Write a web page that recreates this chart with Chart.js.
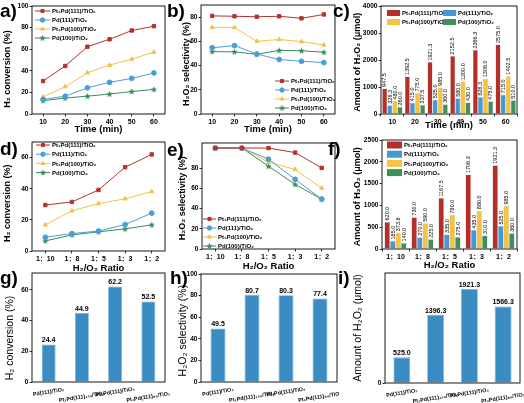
<!DOCTYPE html>
<html>
<head>
<meta charset="utf-8">
<script src="https://cdn.jsdelivr.net/npm/chart.js@4.4.1/dist/chart.umd.min.js"></script>
<style>
  html, body { margin: 0; padding: 0; background: #fff; }
  #fig { position: relative; width: 524px; height: 403px; overflow: hidden; }
  .panel { position: absolute; }
  .panel canvas { display: block; }
  .tag { position: absolute; font: bold 19px 'Liberation Sans', Arial, sans-serif; line-height: 19px; color: #000; }
</style>
</head>
<body>
<div id="fig"></div>
<script>
/* ---- data ---- */
var timeLabels  = ['10', '20', '30', '40', '50', '60'];
var ratioLabels = ['1：10', '1：8', '1：5', '1：3', '1：2'];
var catalysts   = ['Pt₁Pd(111)/TiO₂', 'Pd(111)/TiO₂', 'Pt₁Pd(100)/TiO₂', 'Pd(100)/TiO₂'];
var compareLabels = ['Pd(111)/TiO₂', 'Pt₁Pd(111)₁₂₀/TiO₂', 'Pt₁Pd(111)/TiO₂', 'Pt₁Pd(111)₆₀/TiO₂'];

/* a) H2 conversion vs time */
var convTime_PtPd111 = [30.5, 44.5, 62.3, 69.2, 77.3, 81.3];
var convTime_Pd111   = [13.5, 16.5, 24.2, 29.3, 33.0, 38.0];
var convTime_PtPd100 = [15.8, 25.3, 38.2, 45.2, 50.8, 57.3];
var convTime_Pd100   = [12.3, 14.8, 16.5, 18.5, 20.8, 22.8];

/* b) H2O2 selectivity vs time */
var selTime_PtPd111 = [81.0, 80.7, 80.3, 80.7, 79.0, 82.2];
var selTime_Pd111   = [54.7, 56.5, 49.5, 45.0, 43.5, 42.5];
var selTime_PtPd100 = [71.5, 71.5, 60.0, 61.5, 59.8, 57.0];
var selTime_Pd100   = [51.5, 51.3, 49.3, 52.5, 52.2, 51.0];

/* c) H2O2 amount vs time */
var amtTime_PtPd111 = [947.5, 1392.5, 1921.3, 2152.5, 2366.3, 2575.0];
var amtTime_Pd111   = [326.3, 415.0, 525.0, 580.0, 626.3, 715.0];
var amtTime_PtPd100 = [480.0, 775.0, 985.0, 1200.0, 1306.0, 1402.5];
var amtTime_Pd100   = [260.0, 337.5, 360.0, 430.0, 475.0, 510.0];

/* d) H2 conversion vs H2/O2 ratio */
var convRatio_PtPd111 = [29.5, 31.5, 39.2, 53.8, 62.0];
var convRatio_Pd111   = [8.8, 11.2, 12.8, 17.0, 24.3];
var convRatio_PtPd100 = [16.8, 25.8, 30.5, 33.5, 38.2];
var convRatio_Pd100   = [6.5, 10.3, 12.3, 14.2, 16.8];

/* e) H2O2 selectivity vs ratio */
var selRatio_PtPd111 = [100, 100, 100, 95.5, 80.3];
var selRatio_Pd111   = [100, 100, 89.0, 69.0, 49.5];
var selRatio_PtPd100 = [100, 100, 86.0, 78.8, 60.3];
var selRatio_Pd100   = [100, 100, 82.0, 64.0, 49.5];

/* f) H2O2 amount vs ratio */
var amtRatio_PtPd111 = [620.0, 730.0, 1167.5, 1706.3, 1921.3];
var amtRatio_Pd111   = [185.0, 270.0, 335.0, 435.0, 525.0];
var amtRatio_PtPd100 = [373.8, 590.0, 780.0, 880.0, 985.0];
var amtRatio_Pd100   = [140.0, 225.0, 275.0, 310.0, 360.0];

/* g, h, i) comparison */
var convCompare = [24.4, 44.9, 62.2, 52.5];
var selCompare  = [49.5, 80.7, 80.3, 77.4];
var amtCompare  = [525.0, 1396.3, 1921.3, 1566.3];

/* ---- style ---- */
var FF = "'Liberation Sans', 'Noto Sans CJK SC', Arial, sans-serif";
var RED = '#b2342c', BLUE = '#4a9ed6', YEL = '#f3c14a', GRN = '#3b8b5a';
var BAR_RED = '#b72e28', BAR_BLUE = '#3f9bd8', BAR_YEL = '#f5c242', BAR_GRN = '#3d8f5b';
var STEEL = '#3c8cc4';
var EN = '\u2002';

function makeStar(color) {
  var c = document.createElement('canvas');
  c.width = 7; c.height = 7;
  var g = c.getContext('2d');
  g.fillStyle = color;
  g.beginPath();
  for (var k = 0; k < 10; k++) {
    var r = k % 2 ? 1.5 : 3.4;
    var a = -Math.PI / 2 + k * Math.PI / 5;
    g.lineTo(3.5 + r * Math.cos(a), 3.7 + r * Math.sin(a));
  }
  g.closePath();
  g.fill();
  return c;
}
var STAR = makeStar(GRN);

/* ---- plugins ---- */
var frame = {
  id: 'frame',
  afterDraw: function (chart) {
    var a = chart.chartArea, ctx = chart.ctx;
    ctx.save();
    ctx.strokeStyle = '#000';
    ctx.lineWidth = 0.9;
    ctx.strokeRect(a.left, a.top, a.right - a.left, a.bottom - a.top);
    ctx.restore();
  }
};

var insideLegend = {
  id: 'insideLegend',
  afterDraw: function (chart, args, opt) {
    if (!opt || !opt.kind) return;
    var ctx = chart.ctx, a = chart.chartArea;
    ctx.save();
    ctx.font = 'bold 6px ' + FF;
    ctx.textBaseline = 'middle';
    chart.data.datasets.forEach(function (ds, i) {
      var cols = opt.cols || 1;
      var col = i % cols, row = Math.floor(i / cols);
      var x = a.left + opt.x + col * (opt.colW || 0);
      var y = a.top + opt.y + row * opt.rowH;
      if (opt.kind === 'line') {
        ctx.strokeStyle = ds.borderColor;
        ctx.lineWidth = 1;
        ctx.beginPath(); ctx.moveTo(x, y); ctx.lineTo(x + opt.sw, y); ctx.stroke();
        ctx.fillStyle = ds.borderColor;
        Chart.helpers.drawPoint(ctx, { pointStyle: ds.pointStyle, radius: 2.2, rotation: 0, borderWidth: 1 }, x + opt.sw / 2, y);
      } else {
        ctx.fillStyle = ds.backgroundColor;
        ctx.fillRect(x, y - opt.sh / 2, opt.sw, opt.sh);
      }
      ctx.fillStyle = '#000';
      ctx.fillText(ds.label, x + opt.sw + opt.gap, y + 0.5);
    });
    ctx.restore();
  }
};

var barValues = {
  id: 'barValues',
  afterDatasetsDraw: function (chart, args, opt) {
    if (!opt || !opt.mode) return;
    var ctx = chart.ctx;
    ctx.save();
    ctx.fillStyle = '#000';
    chart.data.datasets.forEach(function (ds, i) {
      chart.getDatasetMeta(i).data.forEach(function (bar, j) {
        var txt = ds.data[j].toFixed(1);
        if (opt.mode === 'vertical') {
          ctx.save();
          ctx.translate(bar.x + 0.3, bar.y - 1.5);
          ctx.rotate(-Math.PI / 2);
          ctx.font = '5.5px ' + FF;
          ctx.textAlign = 'left';
          ctx.textBaseline = 'middle';
          ctx.fillText(txt, 0, 0);
          ctx.restore();
        } else {
          ctx.font = 'bold 7px ' + FF;
          ctx.textAlign = 'center';
          ctx.textBaseline = 'bottom';
          ctx.fillText(txt, bar.x, bar.y - 0.5);
        }
      });
    });
    ctx.restore();
  }
};

var slantLabels = {
  id: 'slantLabels',
  afterDraw: function (chart, args, opt) {
    if (!opt || !opt.on) return;
    var ctx = chart.ctx, xs = chart.scales.x, bottom = chart.chartArea.bottom;
    ctx.save();
    ctx.font = 'bold 5.4px ' + FF;
    ctx.textAlign = 'center';
    ctx.textBaseline = 'middle';
    ctx.fillStyle = '#000';
    chart.data.labels.forEach(function (lbl, i) {
      ctx.save();
      ctx.translate(xs.getPixelForValue(i) + opt.dx, bottom + (i % 2 ? opt.dy2 : opt.dy1));
      ctx.rotate(-opt.angle * Math.PI / 180);
      ctx.fillText(lbl, 0, 0);
      ctx.restore();
    });
    ctx.restore();
  }
};

Chart.register(frame, insideLegend, barValues, slantLabels);

/* ---- helpers ---- */
function lineSet(label, data, color, style) {
  return {
    label: label, data: data,
    borderColor: color, backgroundColor: color,
    pointBackgroundColor: color, pointBorderColor: color,
    pointStyle: style, pointRadius: 2.4, borderWidth: 1, tension: 0
  };
}
function barSet(label, data, color, cat) {
  return {
    label: label, data: data,
    backgroundColor: color, borderColor: 'rgba(0,0,0,0.25)', borderWidth: 0.5,
    categoryPercentage: cat, barPercentage: 1
  };
}
function xScale(title, titleSize, showTicks) {
  return {
    ticks: { display: showTicks, color: '#000', font: { family: FF, size: 7, weight: 'bold' }, padding: 1, autoSkip: false, maxRotation: 0 },
    grid: { display: showTicks, drawOnChartArea: false, tickLength: 2.5, color: '#000', tickWidth: 0.8 },
    border: { display: false },
    title: { display: !!title, text: title, color: '#000', font: { family: FF, size: titleSize, weight: 'bold' }, padding: { top: 0, bottom: 0 } }
  };
}
/* shift: trailing en spaces that move the centred title down, away from the panel letter */
function yScale(max, step, title, pad, titleSize, weight, shift) {
  return {
    min: 0, max: max,
    ticks: { stepSize: step, color: '#000', font: { family: FF, size: 6.6, weight: 'bold' }, padding: 1,
             callback: function (v) { return String(v); } },
    afterBuildTicks: function (s) { s.ticks = s.ticks.filter(function (t) { return t.value % step === 0; }); },
    grid: { display: true, drawOnChartArea: false, tickLength: 2.5, color: '#000', tickWidth: 0.8 },
    border: { display: false },
    title: { display: true, text: title + EN.repeat(shift || 0), color: '#000', font: { family: FF, size: titleSize, weight: weight }, padding: { top: pad, bottom: 0 } }
  };
}

var fig = document.getElementById('fig');

function addPanel(box, plot, config) {
  var div = document.createElement('div');
  div.className = 'panel';
  div.style.left = box.l + 'px';
  div.style.top = box.t + 'px';
  var cv = document.createElement('canvas');
  cv.width = box.w; cv.height = box.h;
  cv.style.width = box.w + 'px'; cv.style.height = box.h + 'px';
  div.appendChild(cv);
  fig.appendChild(div);
  var o = config.options;
  o.responsive = false;
  o.animation = false;
  o.devicePixelRatio = 1;
  o.layout = { padding: { top: plot.y0 - box.t, right: box.l + box.w - plot.x1, left: 0, bottom: 0 } };
  o.scales.y.afterFit = function (s) { s.width = plot.x0 - box.l; };
  o.scales.x.afterFit = function (s) { s.height = box.t + box.h - plot.y1; };
  o.plugins = Object.assign({ legend: { display: false }, tooltip: { enabled: false } }, o.plugins || {});
  return new Chart(cv, config);
}

function addTag(txt, x, y) {
  var d = document.createElement('div');
  d.className = 'tag';
  d.style.left = x + 'px';
  d.style.top = y + 'px';
  d.textContent = txt;
  fig.appendChild(d);
}

/* a) */
addPanel({ l: 0, t: 0, w: 170, h: 135 }, { x0: 32, y0: 6, x1: 166, y1: 114 }, {
  type: 'line',
  data: { labels: timeLabels, datasets: [
    lineSet(catalysts[0], convTime_PtPd111, RED, 'rect'),
    lineSet(catalysts[1], convTime_Pd111, BLUE, 'circle'),
    lineSet(catalysts[2], convTime_PtPd100, YEL, 'triangle'),
    lineSet(catalysts[3], convTime_Pd100, GRN, STAR)
  ] },
  options: {
    scales: { x: Object.assign(xScale('Time (min)', 9.5, true), { offset: true }), y: yScale(100, 20, 'H₂ conversion (%)', 2.6, 9, 'bold', 4) },
    plugins: { insideLegend: { kind: 'line', x: 3, y: 5, rowH: 9, sw: 15, gap: 2 } }
  }
});

/* b) */
addPanel({ l: 170, t: 0, w: 170, h: 135 }, { x0: 201, y0: 5, x1: 335, y1: 114 }, {
  type: 'line',
  data: { labels: timeLabels, datasets: [
    lineSet(catalysts[0], selTime_PtPd111, RED, 'rect'),
    lineSet(catalysts[1], selTime_Pd111, BLUE, 'circle'),
    lineSet(catalysts[2], selTime_PtPd100, YEL, 'triangle'),
    lineSet(catalysts[3], selTime_Pd100, GRN, STAR)
  ] },
  options: {
    scales: { x: Object.assign(xScale('Time (min)', 9.5, true), { offset: true }), y: yScale(90, 20, 'H₂O₂ selectivity (%)', 11.2, 9, 'bold', 2) },
    plugins: { insideLegend: { kind: 'line', x: 74, y: 76, rowH: 9, sw: 14, gap: 2 } }
  }
});

/* c) */
addPanel({ l: 345, t: 0, w: 179, h: 131 }, { x0: 381, y0: 6, x1: 517, y1: 114 }, {
  type: 'bar',
  data: { labels: timeLabels, datasets: [
    barSet(catalysts[0], amtTime_PtPd111, BAR_RED, 0.9),
    barSet(catalysts[1], amtTime_Pd111, BAR_BLUE, 0.9),
    barSet(catalysts[2], amtTime_PtPd100, BAR_YEL, 0.9),
    barSet(catalysts[3], amtTime_Pd100, BAR_GRN, 0.9)
  ] },
  options: {
    scales: { x: xScale('Time (min)', 9.5, true), y: yScale(4000, 1000, 'Amount of H₂O₂ (μmol)', 7.5, 9, 'bold', 1) },
    plugins: {
      insideLegend: { kind: 'bar', cols: 2, colW: 56, x: 6, y: 7, rowH: 9, sw: 13, sh: 6, gap: 2 },
      barValues: { mode: 'vertical' }
    }
  }
});

/* d) */
addPanel({ l: 0, t: 134, w: 170, h: 140 }, { x0: 32, y0: 142, x1: 167, y1: 251 }, {
  type: 'line',
  data: { labels: ratioLabels, datasets: [
    lineSet(catalysts[0], convRatio_PtPd111, RED, 'rect'),
    lineSet(catalysts[1], convRatio_Pd111, BLUE, 'circle'),
    lineSet(catalysts[2], convRatio_PtPd100, YEL, 'triangle'),
    lineSet(catalysts[3], convRatio_Pd100, GRN, STAR)
  ] },
  options: {
    scales: { x: Object.assign(xScale('H₂/O₂ Ratio', 9.5, true), { offset: true }), y: yScale(70, 20, 'H₂ conversion (%)', 2.6, 9, 'bold', 3) },
    plugins: { insideLegend: { kind: 'line', x: 4, y: 3, rowH: 9.2, sw: 14, gap: 2 } }
  }
});

/* e) */
addPanel({ l: 170, t: 134, w: 170, h: 138 }, { x0: 202, y0: 143, x1: 335, y1: 249 }, {
  type: 'line',
  data: { labels: ratioLabels, datasets: [
    lineSet(catalysts[0], selRatio_PtPd111, RED, 'rect'),
    lineSet(catalysts[1], selRatio_Pd111, BLUE, 'circle'),
    lineSet(catalysts[2], selRatio_PtPd100, YEL, 'triangle'),
    lineSet(catalysts[3], selRatio_Pd100, GRN, STAR)
  ] },
  options: {
    scales: { x: Object.assign(xScale('H₂/O₂ Ratio', 9.5, true), { offset: true }), y: yScale(105, 20, 'H₂O₂ selectivity (%)', 6.8, 9, 'bold', 1) },
    plugins: { insideLegend: { kind: 'line', x: 1, y: 76, rowH: 9, sw: 13, gap: 2 } }
  }
});

/* f) */
addPanel({ l: 345, t: 134, w: 179, h: 137 }, { x0: 382, y0: 140, x1: 517, y1: 249 }, {
  type: 'bar',
  data: { labels: ratioLabels, datasets: [
    barSet(catalysts[0], amtRatio_PtPd111, BAR_RED, 0.82),
    barSet(catalysts[1], amtRatio_Pd111, BAR_BLUE, 0.82),
    barSet(catalysts[2], amtRatio_PtPd100, BAR_YEL, 0.82),
    barSet(catalysts[3], amtRatio_Pd100, BAR_GRN, 0.82)
  ] },
  options: {
    scales: { x: xScale('H₂/O₂ Ratio', 9.5, true), y: yScale(2500, 500, 'Amount of H₂O₂ (μmol)', 7.5, 9, 'bold', 1) },
    plugins: {
      insideLegend: { kind: 'bar', x: 5, y: 5, rowH: 9.2, sw: 15, sh: 7, gap: 2 },
      barValues: { mode: 'vertical' }
    }
  }
});

/* g) */
addPanel({ l: 0, t: 268, w: 170, h: 135 }, { x0: 32, y0: 273, x1: 165, y1: 382 }, {
  type: 'bar',
  data: { labels: compareLabels, datasets: [
    { label: 'H₂ conversion', data: convCompare, backgroundColor: STEEL, borderColor: '#6aafe0', borderWidth: 0.8, categoryPercentage: 1, barPercentage: 0.42 }
  ] },
  options: {
    scales: { x: xScale('', 9, false), y: yScale(71, 20, 'H₂ conversion (%)', 3.4, 10.5, 'normal', 4) },
    plugins: { barValues: { mode: 'flat' }, slantLabels: { on: true, dx: 0, dy1: 10, dy2: 15, angle: 9 } }
  }
});

/* h) */
addPanel({ l: 170, t: 268, w: 170, h: 135 }, { x0: 201, y0: 274, x1: 337, y1: 382 }, {
  type: 'bar',
  data: { labels: compareLabels, datasets: [
    { label: 'H₂O₂ selectivity', data: selCompare, backgroundColor: STEEL, borderColor: '#6aafe0', borderWidth: 0.8, categoryPercentage: 1, barPercentage: 0.44 }
  ] },
  options: {
    scales: { x: xScale('', 9, false), y: yScale(100, 20, 'H₂O₂ selectivity (%)', 6.7, 10.5, 'normal', 1) },
    plugins: { barValues: { mode: 'flat' }, slantLabels: { on: true, dx: 0, dy1: 10, dy2: 15, angle: 9 } }
  }
});

/* i) */
addPanel({ l: 345, t: 268, w: 179, h: 135 }, { x0: 385, y0: 273, x1: 520, y1: 383 }, {
  type: 'bar',
  data: { labels: compareLabels, datasets: [
    { label: 'Amount of H₂O₂', data: amtCompare, backgroundColor: STEEL, borderColor: '#6aafe0', borderWidth: 0.8, categoryPercentage: 1, barPercentage: 0.5 }
  ] },
  options: {
    scales: { x: xScale('', 9, false), y: yScale(2250, 400, 'Amount of H₂O₂ (μmol)', 6.7, 10.5, 'normal', 0) },
    plugins: { barValues: { mode: 'flat' }, slantLabels: { on: true, dx: 0, dy1: 10, dy2: 15, angle: 9 } }
  }
});

/* panel letters */
addTag('a)', 0, 1);
addTag('b)', 167, 1);
addTag('c)', 333, 1);
addTag('d)', 0, 139);
addTag('e)', 167, 140);
addTag('f)', 328, 139);
addTag('g)', 0, 268);
addTag('h)', 170, 268);
addTag('i)', 338, 268);
</script>
</body>
</html>
